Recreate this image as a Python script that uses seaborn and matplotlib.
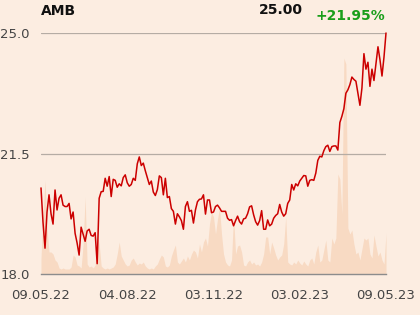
import numpy as np
import pandas as pd
import matplotlib
matplotlib.use("Agg")
import matplotlib.pyplot as plt
import seaborn as sns

# ---- data ----
ticker = "AMB"
last_price = "25.00"
change = "+21.95%"
date_labels = ["09.05.22", "04.08.22", "03.11.22", "03.02.23", "09.05.23"]
y_ticks = [18.0, 21.5, 25.0]

price = [
    20.50, 19.5, 18.75, 19.8, 20.3, 19.75, 19.45, 20.44, 19.86, 20.2,
    20.3, 20.0, 19.96, 19.96, 20.05, 19.6, 19.8, 19.18, 18.9, 18.55,
    19.36, 19.15, 18.95, 19.25, 19.3, 19.12, 19.1, 19.2, 18.3, 20.2,
    20.39, 20.4, 20.78, 20.55, 20.83, 20.25, 20.75, 20.72, 20.52, 20.62,
    20.56, 20.8, 20.88, 20.65, 20.55, 20.6, 20.78, 20.72, 21.2, 21.4,
    21.15, 21.22, 21.0, 20.8, 20.6, 20.7, 20.38, 20.28, 20.45, 20.85,
    20.8, 20.3, 20.78, 20.22, 20.25, 19.9, 19.82, 19.45, 19.75, 19.66,
    19.55, 19.3, 19.96, 20.1, 19.82, 19.85, 19.48, 19.86, 20.1, 20.17,
    20.18, 20.3, 19.74, 20.15, 20.15, 19.78, 19.8, 19.96, 20.0, 19.92,
    19.82, 19.82, 19.82, 19.62, 19.56, 19.58, 19.4, 19.55, 19.68, 19.52,
    19.45, 19.6, 19.62, 19.75, 19.95, 19.98, 19.72, 19.52, 19.42, 19.55,
    19.84, 19.3, 19.3, 19.57, 19.4, 19.45, 19.62, 19.7, 19.75, 20.02,
    19.8, 19.68, 19.75, 20.05, 20.15, 20.6, 20.44, 20.62, 20.56, 20.7,
    20.78, 20.86, 20.85, 20.55, 20.72, 20.74, 20.72, 20.93, 21.3, 21.42,
    21.4, 21.58, 21.7, 21.74, 21.56, 21.7, 21.72, 21.72, 21.6, 22.4,
    22.58, 22.8, 23.25, 23.35, 23.5, 23.72, 23.65, 23.6, 23.25, 22.9,
    23.4, 24.4, 23.95, 24.15, 23.45, 23.95, 23.62, 24.1, 24.6, 24.22,
    23.75, 24.3, 25.0,
]

volume = [
    16, 60, 94, 45, 22, 22, 20, 14, 12, 6,
    5, 6, 5, 5, 5, 7, 19, 17, 9, 8,
    6, 30, 77, 10, 7, 8, 6, 9, 40, 30,
    8, 6, 5, 6, 5, 6, 7, 10, 20, 32,
    18, 14, 10, 8, 9, 14, 16, 12, 9, 11,
    10, 12, 8, 6, 5, 6, 5, 8, 10, 15,
    19, 17, 8, 7, 9, 18, 24, 29, 12, 10,
    13, 16, 12, 18, 14, 20, 24, 22, 16, 30,
    22, 32, 36, 28, 50, 62, 57, 40, 55, 66,
    40, 20, 12, 9, 8, 14, 59, 20, 28, 29,
    22, 9, 8, 12, 14, 10, 12, 9, 10, 8,
    12, 20, 37, 37, 20, 32, 26, 19, 14, 17,
    19, 30, 57, 12, 10, 9, 12, 10, 14, 11,
    9, 13, 10, 8, 14, 16, 10, 22, 29, 12,
    14, 24, 34, 14, 12, 36, 30, 36, 100, 95,
    60, 216, 210, 46, 40, 44, 30, 20, 22, 14,
    25, 36, 34, 36, 20, 16, 39, 28, 18, 22,
    14, 10, 41,
]

n = min(len(price), len(volume))
df = pd.DataFrame({"t": np.arange(n), "price": price[:n], "volume": volume[:n]})

bg = "#fcede1"
sns.set_style("white")
plt.rcParams["font.family"] = ["DejaVu Sans"]

fig = plt.figure(figsize=(4.2, 3.15), dpi=100, facecolor=bg)
ax = fig.add_axes([41 / 420, 41 / 315, 345 / 420, 241 / 315])
axv = ax.twinx()

# volume in background
axv.fill_between(df["t"], 0, df["volume"], color="#f8dac3", linewidth=0, zorder=1)
axv.set_ylim(0, 241)
axv.set_yticks([])
for s in axv.spines.values():
    s.set_visible(False)
axv.set_facecolor(bg)

ax.set_zorder(axv.get_zorder() + 1)
ax.patch.set_visible(False)

# grid lines
for yv in y_ticks[1:]:
    ax.axhline(yv, color="#b5aca4", lw=0.9, zorder=1)

sns.lineplot(data=df, x="t", y="price", ax=ax, color="#cc0000", lw=1.1,
             zorder=3, clip_on=False)

ax.set_xlim(0, n - 1)
ax.set_ylim(18.0, 25.0)
ax.set_xlabel("")
ax.set_ylabel("")
ax.set_yticks(y_ticks)
ax.set_yticklabels([f"{v:.1f}" for v in y_ticks])
ax.set_xticks(np.linspace(0, n - 1, len(date_labels)))
ax.set_xticklabels(date_labels)
ax.tick_params(axis="y", length=0, pad=8, labelsize=9.5, labelcolor="#444444")
ax.tick_params(axis="x", length=6, width=1, color="#8c8c8c", pad=5,
               labelsize=9.5, labelcolor="#444444", direction="out")
for side in ["top", "right", "left"]:
    ax.spines[side].set_visible(False)
ax.spines["bottom"].set_color("#8c8c8c")
ax.spines["bottom"].set_linewidth(1)

fig.text(41 / 420, 1 - 11 / 315, ticker, fontsize=10, fontweight="bold",
         color="#111111", ha="left", va="center")
fig.text(303 / 420, 1 - 10 / 315, last_price, fontsize=10, fontweight="bold",
         color="#111111", ha="right", va="center")
fig.text(385 / 420, 1 - 16 / 315, change, fontsize=10, fontweight="bold",
         color="#1a9e1a", ha="right", va="center")

fig.savefig("out.png", dpi=100, facecolor=bg)
